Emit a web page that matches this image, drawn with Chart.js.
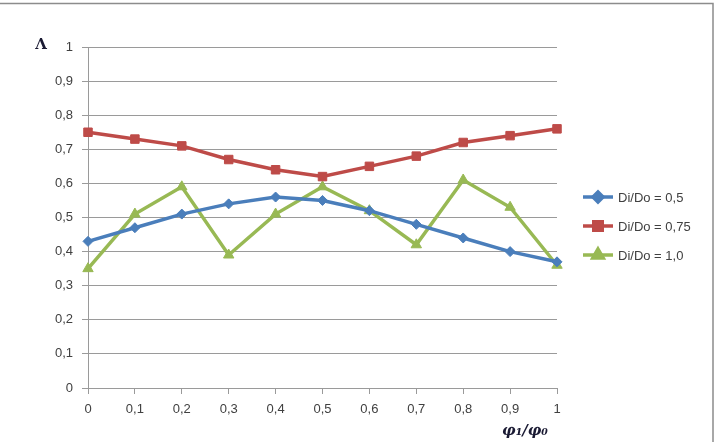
<!DOCTYPE html>
<html>
<head>
<meta charset="utf-8">
<script src="https://cdn.jsdelivr.net/npm/chart.js@4/dist/chart.umd.min.js"></script>
<style>
  html, body { margin: 0; padding: 0; background: #fff; }
  #wrap { width: 719px; height: 442px; position: relative; }
</style>
</head>
<body>
<div id="wrap"><canvas id="c" width="719" height="442"></canvas></div>
<script>
// ---- data ----
const categories = ['0', '0,1', '0,2', '0,3', '0,4', '0,5', '0,6', '0,7', '0,8', '0,9', '1'];
const series05  = [0.43, 0.47, 0.51, 0.54, 0.56, 0.55, 0.52, 0.48, 0.44, 0.40, 0.37];
const series075 = [0.75, 0.73, 0.71, 0.67, 0.64, 0.62, 0.65, 0.68, 0.72, 0.74, 0.76];
const series10  = [0.35, 0.51, 0.59, 0.39, 0.51, 0.59, 0.52, 0.42, 0.61, 0.53, 0.36];
const seriesNames = ['Di/Do = 0,5', 'Di/Do = 0,75', 'Di/Do = 1,0'];
const yTickLabels = ['0', '0,1', '0,2', '0,3', '0,4', '0,5', '0,6', '0,7', '0,8', '0,9', '1'];
const yTitle = 'Λ';
const xTitle = 'φ₁/φ₀';

const colors = ['#4a7ebb', '#be4b48', '#98b954'];
const styles = ['rectRot', 'rect', 'triangle'];
const radii = [5, 6, 6];
const FONT = "'Liberation Sans', Arial, sans-serif";

const decorPlugin = {
  id: 'decor',
  afterDraw(chart) {
    const ctx = chart.ctx;
    ctx.save();
    // frame
    ctx.strokeStyle = '#8c8c8c';
    ctx.lineWidth = 1.5;
    ctx.beginPath();
    ctx.moveTo(0, 3.5);
    ctx.lineTo(713, 3.5);
    ctx.lineTo(713, 442);
    ctx.stroke();
    // titles
    ctx.fillStyle = '#1a1a33';
    ctx.font = "bold 15px 'DejaVu Serif', 'Liberation Serif', serif";
    ctx.textAlign = 'center';
    ctx.textBaseline = 'middle';
    ctx.fillText(yTitle, 41, 45);
    ctx.font = "bold italic 15px 'DejaVu Serif', 'Liberation Serif', serif";
    ctx.fillText(xTitle, 525, 431);
    // legend
    const ys = [197, 226, 255];
    chart.data.datasets.forEach((ds, i) => {
      const y = ys[i];
      ctx.strokeStyle = ds.borderColor;
      ctx.lineWidth = 3.5;
      ctx.beginPath();
      ctx.moveTo(583, y);
      ctx.lineTo(613, y);
      ctx.stroke();
      Chart.helpers.drawPoint(ctx, {
        pointStyle: ds.pointStyle,
        radius: ds.pointRadius,
        borderWidth: 1
      }, 598, y);
      ctx.fillStyle = ds.borderColor;
      ctx.fill();
      ctx.fillStyle = '#404040';
      ctx.font = "13px " + FONT;
      ctx.textAlign = 'left';
      ctx.fillText(ds.label, 618, y + 1);
    });
    ctx.restore();
  }
};

const data = [series05, series075, series10];
new Chart(document.getElementById('c'), {
  type: 'line',
  data: {
    labels: categories,
    datasets: data.map((d, i) => ({
      label: seriesNames[i],
      data: d,
      borderColor: colors[i],
      backgroundColor: colors[i],
      pointBackgroundColor: colors[i],
      pointBorderColor: colors[i],
      borderWidth: 3.5,
      pointStyle: styles[i],
      pointRadius: radii[i],
      pointBorderWidth: 1,
      tension: 0,
      fill: false
    }))
  },
  options: {
    responsive: false,
    animation: false,
    devicePixelRatio: 1,
    layout: { padding: { left: 0, right: 162, top: 47, bottom: 0 } },
    plugins: { legend: { display: false }, tooltip: { enabled: false } },
    scales: {
      x: {
        type: 'category',
        offset: false,
        afterFit(s) { s.height = 54; },
        grid: { drawOnChartArea: false, drawTicks: true, tickLength: 6, color: '#9a9a9a' },
        border: { color: '#9a9a9a', width: 1 },
        ticks: { color: '#404040', font: { family: FONT, size: 13 }, padding: 8, maxRotation: 0, autoSkip: false }
      },
      y: {
        min: 0, max: 1,
        afterFit(s) { s.width = 88; },
        grid: { color: '#9a9a9a', tickLength: 6 },
        border: { color: '#9a9a9a', width: 1 },
        ticks: {
          stepSize: 0.1,
          color: '#404040',
          font: { family: FONT, size: 13 },
          padding: 9,
          callback(v, idx) { return yTickLabels[idx]; }
        }
      }
    }
  },
  plugins: [decorPlugin]
});
</script>
</body>
</html>
